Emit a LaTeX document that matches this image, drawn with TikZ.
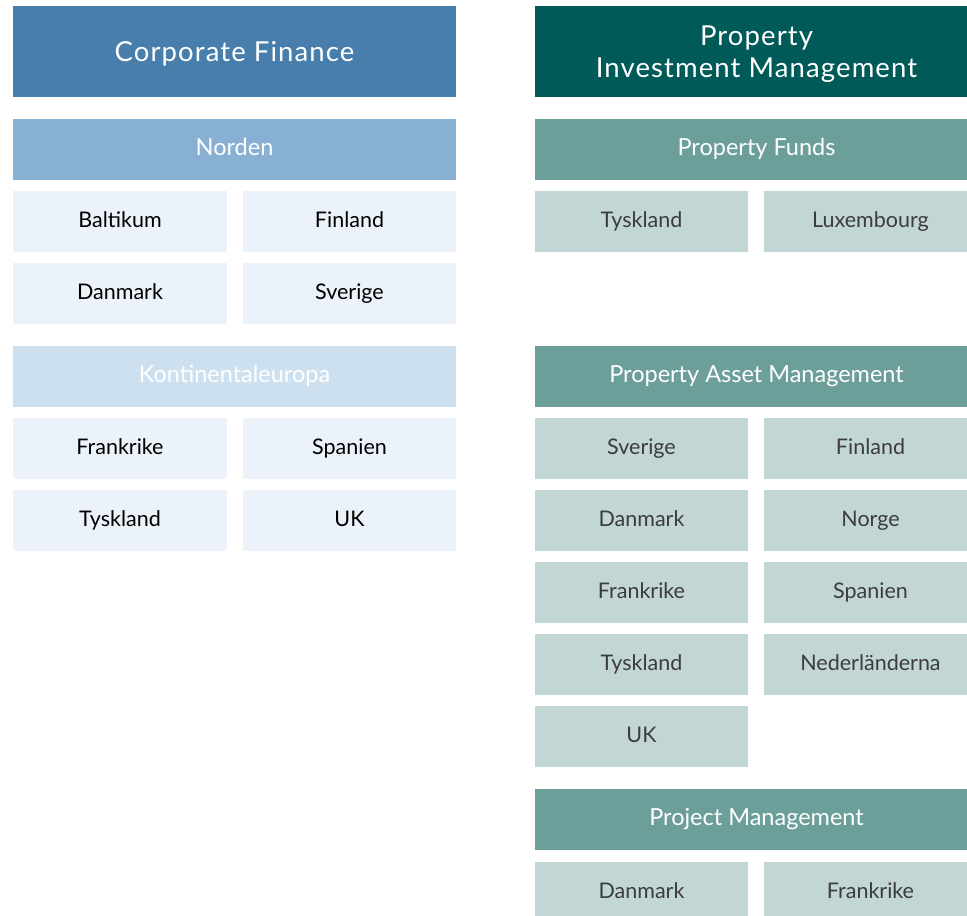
\documentclass[tikz,border=0pt]{standalone}
\usepackage{fontspec}
\setmainfont{Lato}
\newfontfamily\titlefont[LetterSpace=4]{Lato}
\definecolor{cfblue}{HTML}{477EAB}
\definecolor{nordblue}{HTML}{87B0D3}
\definecolor{kontblue}{HTML}{CCE0EF}
\definecolor{paleblue}{HTML}{EBF2F9}
\definecolor{pimgreen}{HTML}{005B58}
\definecolor{midgreen}{HTML}{6C9F99}
\definecolor{palegreen}{HTML}{C2D7D5}
\definecolor{darktext}{HTML}{3C3C3C}
\begin{document}
\begin{tikzpicture}[x=1pt,y=-1pt,
  cell/.style={inner sep=0pt, outer sep=0pt, draw=none, align=center},
  titlebox/.style={cell, minimum height=91pt, text=white, text depth=0.05em, font=\titlefont\fontsize{27.5}{32}\selectfont},
  headbox/.style={cell, minimum height=61pt, text=white, text height=1.3em, text depth=0.1em, font=\fontsize{23.5}{26}\selectfont},
  subbox/.style={cell, minimum height=61pt, text height=1.3em, text depth=0.1em, font=\fontsize{21.5}{24}\selectfont},
  lwide/.style={minimum width=443pt},
  rwide/.style={minimum width=443pt},
  lsubL/.style={minimum width=214pt},
  lsubR/.style={minimum width=213pt},
  rsubL/.style={minimum width=213pt},
  rsubR/.style={minimum width=213pt},
  bsub/.style={subbox, fill=paleblue, text=black},
  gsub/.style={subbox, fill=palegreen, text=darktext}
]
\useasboundingbox (0,0) rectangle (967,916);
\clip (0,0) rectangle (967,916);
% Left column
\node[titlebox, lwide, fill=cfblue] (cf) at (234.5,51.5) {Corporate Finance};
\node[headbox, lwide, fill=nordblue] (norden) at (234.5,149.5) {Norden};
\node[bsub, lsubL] (balt) at (120,221.5) {Baltikum};
\node[bsub, lsubR] (fin) at (349.5,221.5) {Finland};
\node[bsub, lsubL] (dan) at (120,293.5) {Danmark};
\node[bsub, lsubR] (sve) at (349.5,293.5) {Sverige};
\node[headbox, lwide, fill=kontblue] (kont) at (234.5,376.5) {Kontinentaleuropa};
\node[bsub, lsubL] (fra) at (120,448.5) {Frankrike};
\node[bsub, lsubR] (spa) at (349.5,448.5) {Spanien};
\node[bsub, lsubL] (tys) at (120,520.5) {Tyskland};
\node[bsub, lsubR] (uk) at (349.5,520.5) {UK};
% Right column
\node[titlebox, rwide, fill=pimgreen] (pim) at (756.5,51.5) {Property\\Investment Management};
\node[headbox, rwide, fill=midgreen] (pf) at (756.5,149.5) {Property Funds};
\node[gsub, rsubL] (pftys) at (641.5,221.5) {Tyskland};
\node[gsub, rsubR] (pflux) at (870.5,221.5) {Luxembourg};
\node[headbox, rwide, fill=midgreen] (pam) at (756.5,376.5) {Property Asset Management};
\node[gsub, rsubL] (pamsve) at (641.5,448.5) {Sverige};
\node[gsub, rsubR] (pamfin) at (870.5,448.5) {Finland};
\node[gsub, rsubL] (pamdan) at (641.5,520.5) {Danmark};
\node[gsub, rsubR] (pamnor) at (870.5,520.5) {Norge};
\node[gsub, rsubL] (pamfra) at (641.5,592.5) {Frankrike};
\node[gsub, rsubR] (pamspa) at (870.5,592.5) {Spanien};
\node[gsub, rsubL] (pamtys) at (641.5,664.5) {Tyskland};
\node[gsub, rsubR] (pamned) at (870.5,664.5) {Nederländerna};
\node[gsub, rsubL] (pamuk) at (641.5,736.5) {UK};
\node[headbox, rwide, fill=midgreen] (pm) at (756.5,819.5) {Project Management};
\node[gsub, rsubL] (pmdan) at (641.5,892.5) {Danmark};
\node[gsub, rsubR] (pmfra) at (870.5,892.5) {Frankrike};
\end{tikzpicture}
\end{document}
